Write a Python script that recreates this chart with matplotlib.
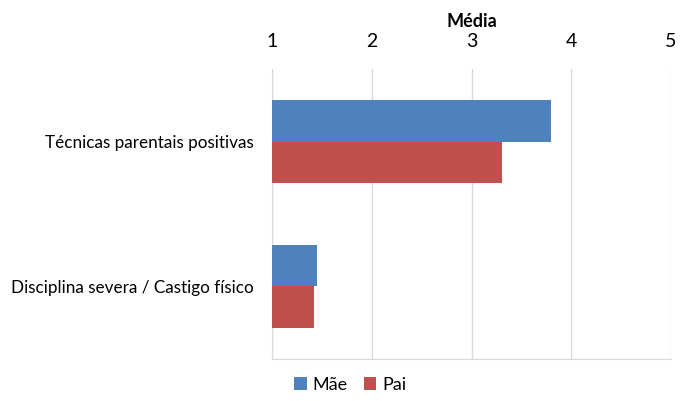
import matplotlib.pyplot as plt
import numpy as np

plt.rcParams['font.family'] = ['Lato', 'DejaVu Sans']

categorias = ['Disciplina severa / Castigo físico', 'Técnicas parentais positivas']
mae = [1.45, 3.80]
pai = [1.42, 3.31]
series = ['Mãe', 'Pai']
cores = ['#4F81BD', '#C0504D']

fig = plt.figure(figsize=(6.8, 4.01), dpi=100)
ax = fig.add_axes([0.4, 0.105, 0.5868, 0.7225])

y = np.arange(len(categorias))
h = 0.285
ax.barh(y + h / 2, np.array(mae) - 1, height=h, left=1, color=cores[0], label=series[0], zorder=3)
ax.barh(y - h / 2, np.array(pai) - 1, height=h, left=1, color=cores[1], label=series[1], zorder=3)

ax.set_xlim(1, 5)
ax.set_ylim(-0.5, 1.5)
ax.set_xticks([1, 2, 3, 4, 5])
ax.xaxis.tick_top()
ax.xaxis.set_label_position('top')
ax.set_xlabel('Média', fontsize=13, fontweight='bold', labelpad=4)
ax.tick_params(axis='x', length=0, labelsize=14, pad=14)
ax.set_yticks(y)
ax.set_yticklabels(categorias, fontsize=12.3)
ax.tick_params(axis='y', length=0, pad=13)
ax.grid(axis='x', color='#D9D9D9', linewidth=1, zorder=0)
for s in ax.spines.values():
    s.set_color('#D9D9D9')
ax.spines['right'].set_visible(False)
ax.spines['top'].set_visible(False)

fig.legend(loc='center', bbox_to_anchor=(0.515, 0.04), ncol=2,
           frameon=False, fontsize=13, handlelength=0.7, handleheight=0.7,
           handletextpad=0.3, columnspacing=0.9)

fig.savefig('out.png', dpi=100, facecolor='white')
